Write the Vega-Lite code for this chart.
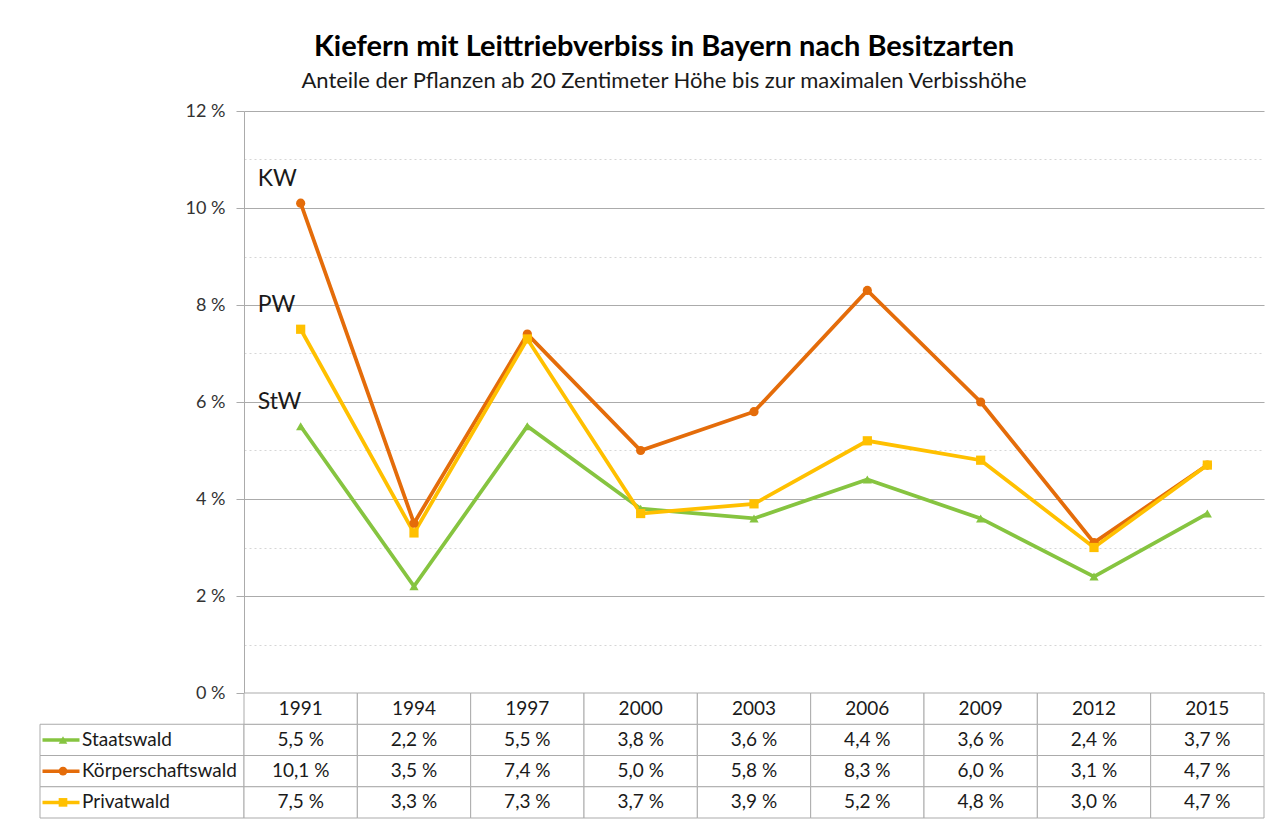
{
  "$schema": "https://vega.github.io/schema/vega-lite/v6.json",
  "padding": {"left": 35, "top": 33, "right": 10, "bottom": 0},
  "background": "white",
  "title": {
    "text": "Kiefern mit Leittriebverbiss in Bayern nach Besitzarten",
    "subtitle": "Anteile der Pflanzen ab 20 Zentimeter Höhe bis zur maximalen Verbisshöhe",
    "anchor": "middle",
    "dx": 14,
    "font": "Lato",
    "fontSize": 29,
    "fontWeight": "bold",
    "color": "#000000",
    "subtitleFont": "Lato",
    "subtitleFontSize": 22,
    "subtitleColor": "#1a1a1a",
    "subtitlePadding": 9,
    "offset": 10
  },
  "datasets": {
    "d": [
      {"Jahr": "1991", "Besitzart": "Staatswald", "Kurz": "StW", "Anteil": 0.055},
      {"Jahr": "1994", "Besitzart": "Staatswald", "Kurz": "StW", "Anteil": 0.022},
      {"Jahr": "1997", "Besitzart": "Staatswald", "Kurz": "StW", "Anteil": 0.055},
      {"Jahr": "2000", "Besitzart": "Staatswald", "Kurz": "StW", "Anteil": 0.038},
      {"Jahr": "2003", "Besitzart": "Staatswald", "Kurz": "StW", "Anteil": 0.036},
      {"Jahr": "2006", "Besitzart": "Staatswald", "Kurz": "StW", "Anteil": 0.044},
      {"Jahr": "2009", "Besitzart": "Staatswald", "Kurz": "StW", "Anteil": 0.036},
      {"Jahr": "2012", "Besitzart": "Staatswald", "Kurz": "StW", "Anteil": 0.024},
      {"Jahr": "2015", "Besitzart": "Staatswald", "Kurz": "StW", "Anteil": 0.037},
      {"Jahr": "1991", "Besitzart": "Körperschaftswald", "Kurz": "KW", "Anteil": 0.101},
      {"Jahr": "1994", "Besitzart": "Körperschaftswald", "Kurz": "KW", "Anteil": 0.035},
      {"Jahr": "1997", "Besitzart": "Körperschaftswald", "Kurz": "KW", "Anteil": 0.074},
      {"Jahr": "2000", "Besitzart": "Körperschaftswald", "Kurz": "KW", "Anteil": 0.050},
      {"Jahr": "2003", "Besitzart": "Körperschaftswald", "Kurz": "KW", "Anteil": 0.058},
      {"Jahr": "2006", "Besitzart": "Körperschaftswald", "Kurz": "KW", "Anteil": 0.083},
      {"Jahr": "2009", "Besitzart": "Körperschaftswald", "Kurz": "KW", "Anteil": 0.060},
      {"Jahr": "2012", "Besitzart": "Körperschaftswald", "Kurz": "KW", "Anteil": 0.031},
      {"Jahr": "2015", "Besitzart": "Körperschaftswald", "Kurz": "KW", "Anteil": 0.047},
      {"Jahr": "1991", "Besitzart": "Privatwald", "Kurz": "PW", "Anteil": 0.075},
      {"Jahr": "1994", "Besitzart": "Privatwald", "Kurz": "PW", "Anteil": 0.033},
      {"Jahr": "1997", "Besitzart": "Privatwald", "Kurz": "PW", "Anteil": 0.073},
      {"Jahr": "2000", "Besitzart": "Privatwald", "Kurz": "PW", "Anteil": 0.037},
      {"Jahr": "2003", "Besitzart": "Privatwald", "Kurz": "PW", "Anteil": 0.039},
      {"Jahr": "2006", "Besitzart": "Privatwald", "Kurz": "PW", "Anteil": 0.052},
      {"Jahr": "2009", "Besitzart": "Privatwald", "Kurz": "PW", "Anteil": 0.048},
      {"Jahr": "2012", "Besitzart": "Privatwald", "Kurz": "PW", "Anteil": 0.030},
      {"Jahr": "2015", "Besitzart": "Privatwald", "Kurz": "PW", "Anteil": 0.047}
    ]
  },
  "columns": 2,
  "spacing": 0,
  "bounds": "flush",
  "concat": [
    {
      "width": 204,
      "height": 582,
      "data": {"values": [{}]},
      "mark": {"type": "text", "text": ""},
      "encoding": {}
    },
    {
      "width": 1020,
      "height": 582,
      "data": {"name": "d"},
      "encoding": {
        "x": {"field": "Jahr", "type": "ordinal", "scale": {"type": "point", "padding": 0.5}, "axis": null},
        "y": {
          "field": "Anteil",
          "type": "quantitative",
          "scale": {"domain": [0, 0.12], "nice": false, "zero": true},
          "axis": {
            "title": null,
            "values": [0, 0.01, 0.02, 0.03, 0.04, 0.05, 0.06, 0.07, 0.08, 0.09, 0.1, 0.11, 0.12],
            "format": ".0%",
            "labelExpr": "round(datum.value*100) % 2 === 1 ? '' : datum.label",
            "labelFont": "Lato",
            "labelFontSize": 18,
            "labelColor": "#333333",
            "labelPadding": 11,
            "tickSize": 8,
            "tickColor": "#ABABAB",
            "tickOpacity": {"condition": {"test": "round(datum.value*100) % 2 === 1", "value": 0}, "value": 1},
            "domainColor": "#ABABAB",
            "grid": true,
            "gridColor": {"condition": {"test": "round(datum.value*100) % 2 === 1", "value": "#D6D6D6"}, "value": "#ABABAB"},
            "gridDash": {"condition": {"test": "round(datum.value*100) % 2 === 1", "value": [2, 3]}, "value": []},
            "gridWidth": 1
          }
        },
        "color": {
          "field": "Besitzart",
          "type": "nominal",
          "scale": {"domain": ["Staatswald", "Körperschaftswald", "Privatwald"], "range": ["#86C440", "#E46C0A", "#FFC000"]},
          "legend": null
        }
      },
      "layer": [
        {"mark": {"type": "line", "strokeWidth": 3.75}},
        {
          "mark": {"type": "point", "filled": true, "opacity": 1, "size": 85},
          "encoding": {
            "shape": {
              "field": "Besitzart",
              "type": "nominal",
              "scale": {"domain": ["Staatswald", "Körperschaftswald", "Privatwald"], "range": ["triangle-up", "circle", "square"]},
              "legend": null
            }
          }
        },
        {
          "transform": [{"filter": "datum.Jahr === '1991'"}],
          "mark": {"type": "text", "align": "left", "baseline": "alphabetic", "dx": -43, "dy": -17, "font": "Lato", "fontSize": 23, "color": "#1a1a1a"},
          "encoding": {"text": {"field": "Kurz"}, "color": {"value": "#1a1a1a"}}
        }
      ]
    },
    {
      "width": 204,
      "height": 125,
      "data": {"name": "d"},
      "transform": [{"filter": "datum.Jahr === '1991'"}],
      "encoding": {
        "y": {
          "field": "Besitzart",
          "type": "nominal",
          "scale": {"type": "band", "domain": ["Jahr", "Staatswald", "Körperschaftswald", "Privatwald"], "paddingInner": 0, "paddingOuter": 0},
          "axis": null
        }
      },
      "layer": [
        {
          "mark": {"type": "rect", "fill": "white", "stroke": "#ABABAB", "strokeWidth": 1},
          "encoding": {"x": {"datum": "L", "type": "nominal", "scale": {"type": "band", "paddingInner": 0, "paddingOuter": 0}, "axis": null}}
        },
        {
          "mark": {"type": "point", "shape": "M-1,0H1", "filled": false, "size": 1369, "strokeWidth": 3.5, "opacity": 1, "xOffset": 21},
          "encoding": {
            "x": {"datum": "L", "type": "nominal", "bandPosition": 0},
            "color": {
              "field": "Besitzart", "type": "nominal",
              "scale": {"domain": ["Staatswald", "Körperschaftswald", "Privatwald"], "range": ["#86C440", "#E46C0A", "#FFC000"]},
              "legend": null
            }
          }
        },
        {
          "mark": {"type": "point", "filled": true, "opacity": 1, "size": 75, "xOffset": 23},
          "encoding": {
            "x": {"datum": "L", "type": "nominal", "bandPosition": 0},
            "color": {"field": "Besitzart", "type": "nominal", "legend": null},
            "shape": {
              "field": "Besitzart", "type": "nominal",
              "scale": {"domain": ["Staatswald", "Körperschaftswald", "Privatwald"], "range": ["triangle-up", "circle", "square"]},
              "legend": null
            }
          }
        },
        {
          "mark": {"type": "text", "align": "left", "dx": 42, "font": "Lato", "fontSize": 19, "color": "#1a1a1a"},
          "encoding": {
            "x": {"datum": "L", "type": "nominal", "bandPosition": 0},
            "text": {"field": "Besitzart"}
          }
        }
      ]
    },
    {
      "width": 1020,
      "height": 125,
      "data": {"name": "d"},
      "encoding": {
        "x": {"field": "Jahr", "type": "ordinal", "scale": {"type": "band", "paddingInner": 0, "paddingOuter": 0}, "axis": null}
      },
      "layer": [
        {
          "mark": {"type": "rect", "fill": "white", "stroke": "#ABABAB", "strokeWidth": 1},
          "encoding": {
            "y": {
              "field": "Besitzart", "type": "nominal",
              "scale": {"type": "band", "domain": ["Jahr", "Staatswald", "Körperschaftswald", "Privatwald"], "paddingInner": 0, "paddingOuter": 0},
              "axis": null
            }
          }
        },
        {
          "mark": {"type": "text", "font": "Lato", "fontSize": 19, "color": "#1a1a1a"},
          "encoding": {
            "y": {"field": "Besitzart", "type": "nominal"},
            "text": {"field": "Anteil", "type": "quantitative", "format": ".1%"}
          }
        },
        {
          "transform": [{"filter": "datum.Besitzart === 'Staatswald'"}],
          "mark": {"type": "rect", "fill": "white", "stroke": "#ABABAB", "strokeWidth": 1},
          "encoding": {"y": {"datum": "Jahr", "type": "nominal"}}
        },
        {
          "transform": [{"filter": "datum.Besitzart === 'Staatswald'"}],
          "mark": {"type": "text", "font": "Lato", "fontSize": 19, "color": "#1a1a1a"},
          "encoding": {
            "y": {"datum": "Jahr", "type": "nominal"},
            "text": {"field": "Jahr", "type": "nominal"}
          }
        }
      ]
    }
  ],
  "config": {
    "view": {"stroke": null},
    "font": "Lato",
    "locale": {
      "number": {"decimal": ",", "thousands": ".", "grouping": [3], "currency": ["", " €"], "percent": " %"}
    }
  }
}
